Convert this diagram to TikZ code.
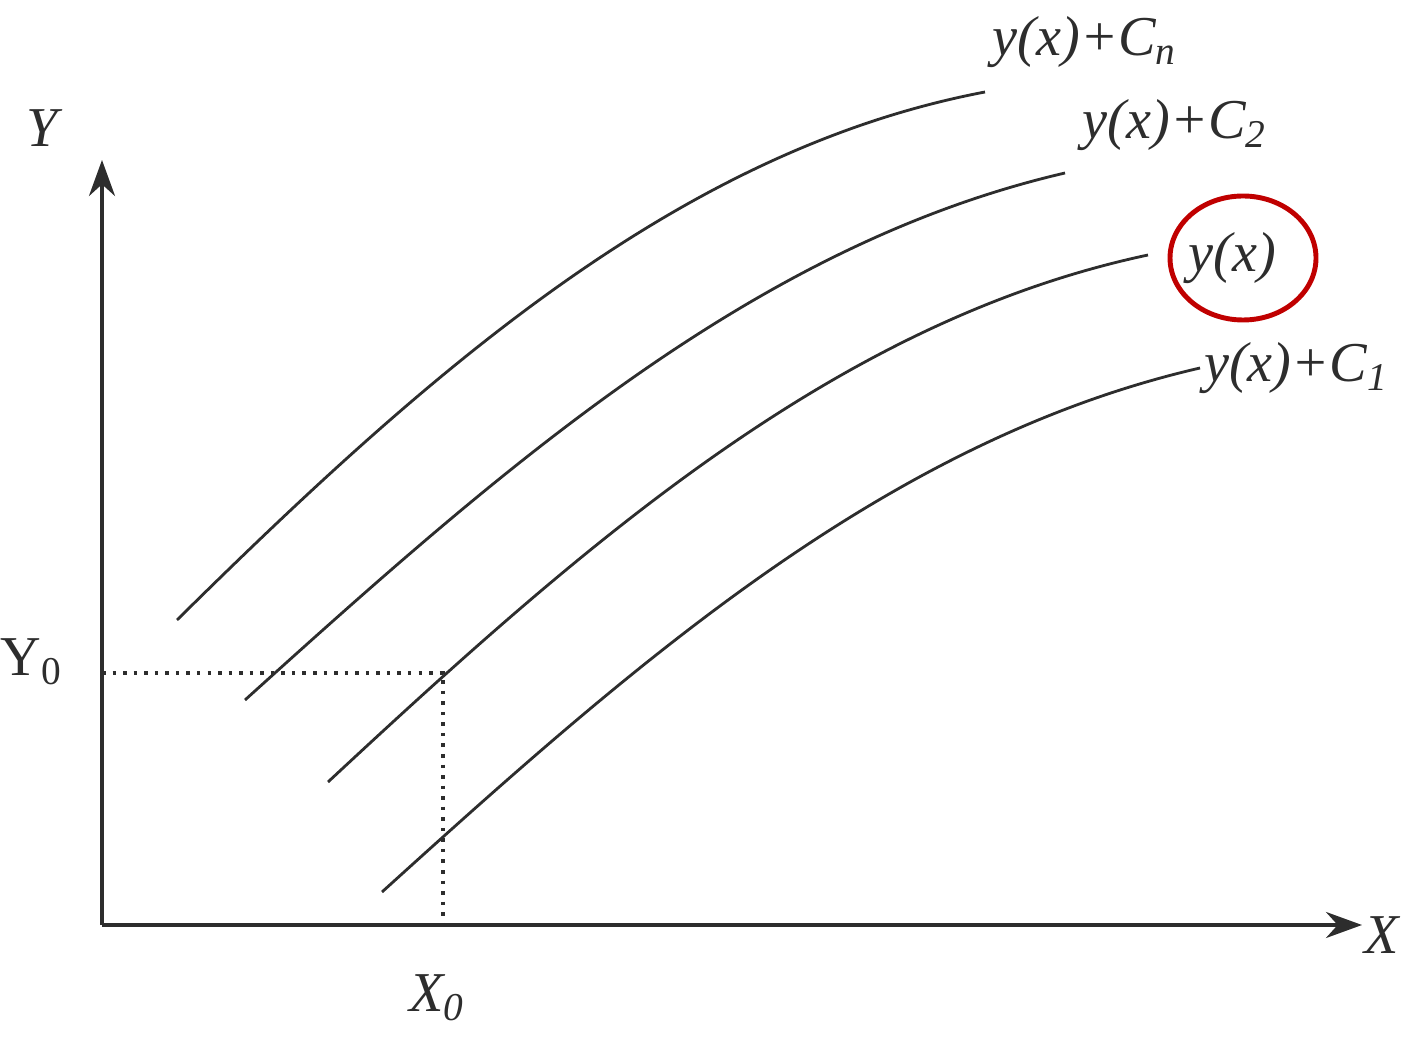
\documentclass[tikz,border=0pt]{standalone}
\usepackage{fontspec}
\setmainfont{Liberation Serif}
\usetikzlibrary{arrows.meta}
\definecolor{inkc}{RGB}{45,45,45}
\definecolor{circred}{RGB}{192,0,0}
\tikzset{
  axisline/.style={draw=inkc, line width=1.1pt, -{Stealth[length=3.6mm,width=2.6mm]}},
  curveline/.style={draw=inkc, line width=0.8pt},
  guideline/.style={draw=inkc, line width=1pt, dotted},
  lbl/.style={text=inkc, font=\fontsize{16}{18}\selectfont, inner sep=1pt},
  marker/.style={draw=circred, line width=1.4pt}
}
\begin{document}
\begin{tikzpicture}[x=0.01cm, y=-0.01cm]
\useasboundingbox (0,0) rectangle (1412,1037);
% axes
\coordinate (O) at (102,925);
\coordinate (Ytip) at (102,160);
\coordinate (Xtip) at (1362,925);
\draw[axisline] (O) -- (Ytip);
\draw[axisline] (O) -- (Xtip);
\node[lbl] (Ylab) at (42,128) {\itshape Y};
\node[lbl] (Xlab) at (1382,935) {\itshape X};
% curve labels
\node[lbl] (Lcn) at (1085,42) {\itshape y(x)+C\textsubscript{n}};
\node[lbl] (Lc2) at (1175,125) {\itshape y(x)+C\textsubscript{2}};
\node[lbl] (Ly) at (1232,258) {\itshape y(x)};
\node[lbl, anchor=west] (Lc1) at (1200,368) {\itshape y(x)+C\textsubscript{1}};
% curves
\coordinate (c1s) at (177,620);
\coordinate (c1e) at (985,92);
\draw[curveline] (c1s) .. controls (430,370) and (680,150) .. (c1e);
\coordinate (c2s) at (245,700);
\coordinate (c2e) at (1065,173);
\draw[curveline] (c2s) .. controls (505,465) and (755,245) .. (c2e);
\coordinate (c3s) at (328,782);
\coordinate (c3e) at (1148,255);
\draw[curveline] (c3s) .. controls (588,540) and (838,321) .. (c3e);
\coordinate (c4s) at (382,892);
\draw[curveline] (c4s) .. controls (638,660) and (888,440) .. (Lc1.west);
% guides
\coordinate (P0) at (443,673);
\coordinate (Yax) at (102,673);
\coordinate (Xax) at (443,925);
\draw[guideline] (Yax) -- (P0) -- (Xax);
\node[lbl] (Y0) at (32,662) {Y\textsubscript{0}};
\node[lbl] (X0) at (437,998) {\itshape X\textsubscript{0}};
% red marker
\draw[marker] (1243,258) ellipse [x radius=73, y radius=62];
\end{tikzpicture}
\end{document}
